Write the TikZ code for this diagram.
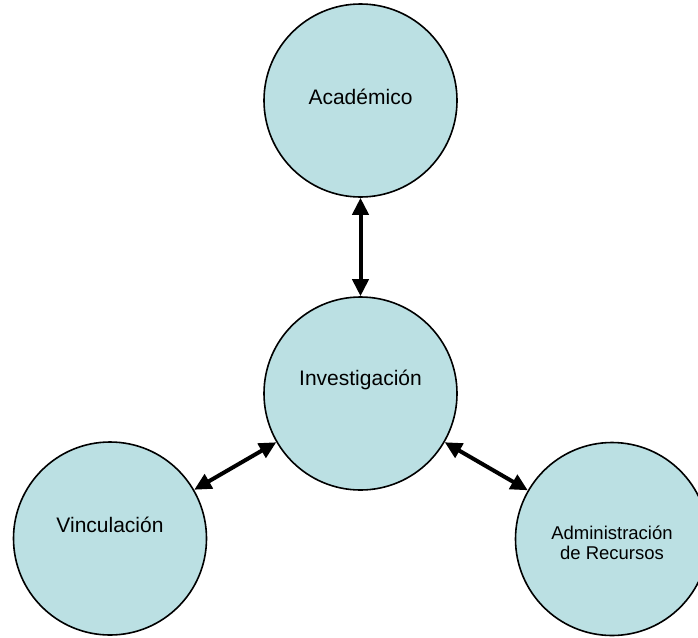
\documentclass[tikz,border=0pt]{standalone}
\usepackage{fontspec}
\setmainfont{Liberation Sans}
\usetikzlibrary{arrows.meta}
\definecolor{circfill}{HTML}{BBE0E3}
\tikzset{
  bubble/.style={circle, draw=black, line width=1.6pt, fill=circfill, minimum size=193pt, inner sep=0pt},
  lbl/.style={font=\fontsize{21}{25}\selectfont, inner sep=0pt, align=center},
  lblsmall/.style={font=\fontsize{18.5}{20}\selectfont, inner sep=0pt, align=center},
  link/.style={line width=4pt, {Triangle[length=17pt,width=16pt]}-{Triangle[length=17pt,width=16pt]}, shorten <=0pt, shorten >=0pt}
}
\begin{document}
\begin{tikzpicture}[x=1pt,y=-1pt]
\useasboundingbox (0,0) rectangle (698,637);
\node[bubble] (aca) at (360.5,100.5) {};
\node[bubble] (inv) at (360.5,393.5) {};
\node[bubble] (vin) at (110,538.5) {};
\node[bubble] (adm) at (612,539) {};
\node[lbl] (acat) at (360.5,97) {Académico};
\node[lbl] (invt) at (360.5,380) {Investigación};
\node[lbl] (vint) at (110,525) {Vinculación};
\node[lblsmall] (admt) at (612,543) {Administración\\de Recursos};
\draw[link] (aca) -- (inv);
\draw[link] (inv) -- (vin);
\draw[link] (inv) -- (adm);
\end{tikzpicture}
\end{document}
